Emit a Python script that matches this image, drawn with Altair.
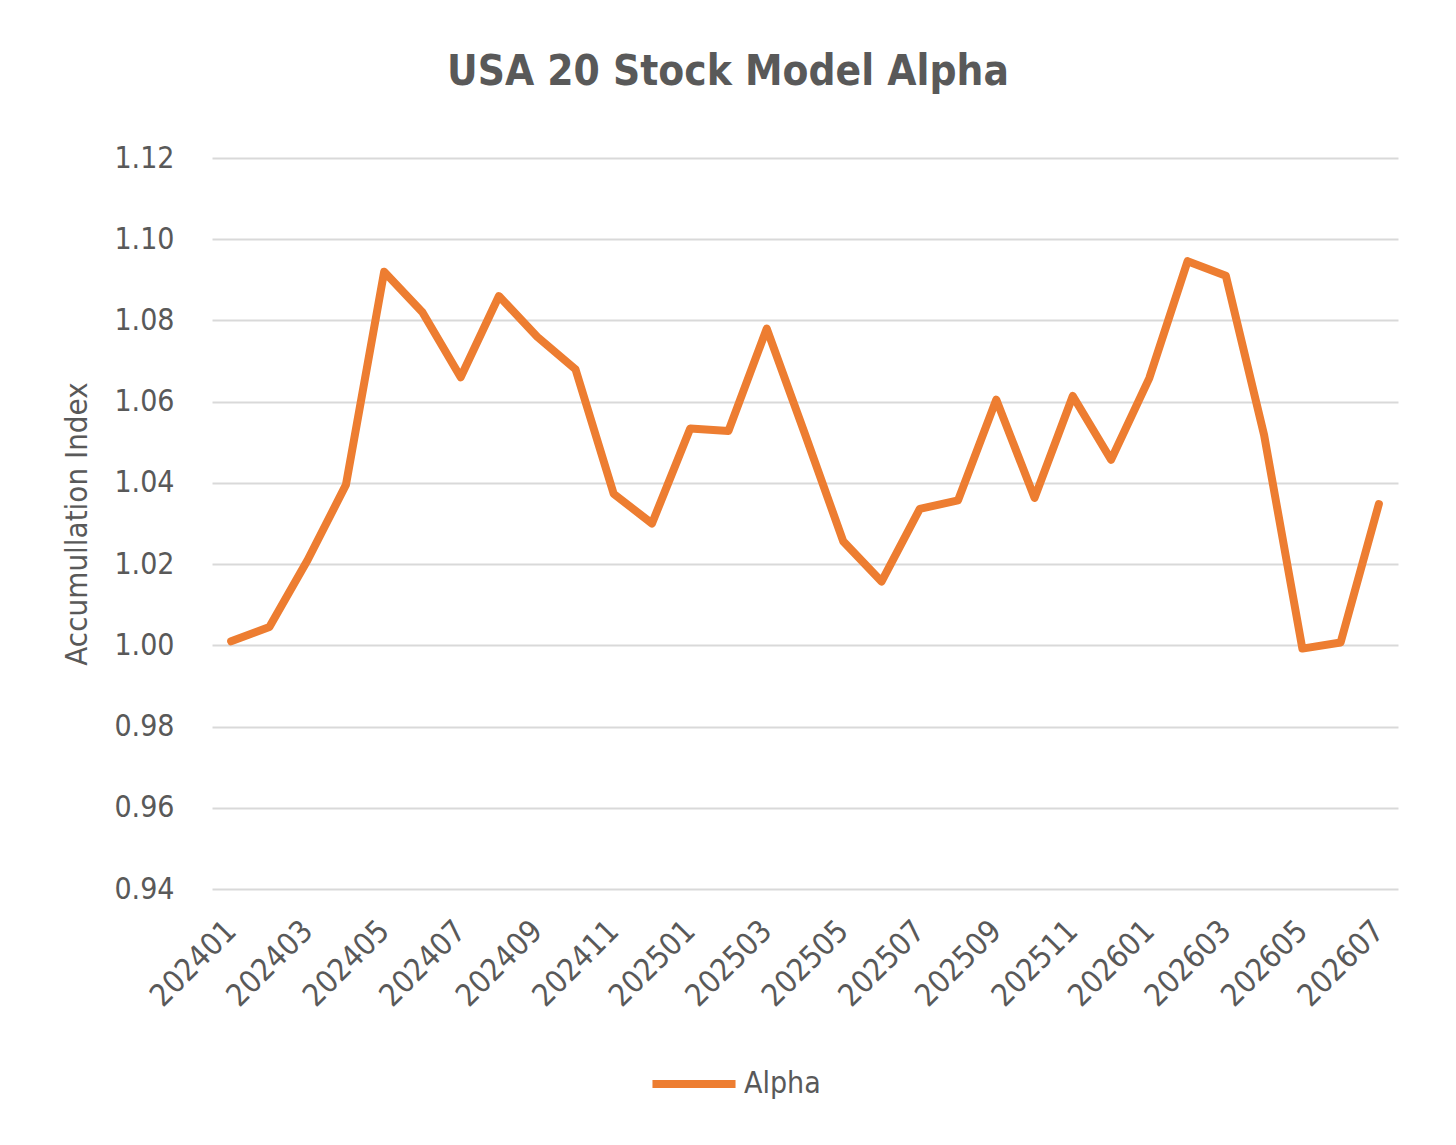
import altair as alt
import pandas as pd

months = [
    "202401", "202402", "202403", "202404", "202405", "202406", "202407", "202408",
    "202409", "202410", "202411", "202412", "202501", "202502", "202503", "202504",
    "202505", "202506", "202507", "202508", "202509", "202510", "202511", "202512",
    "202601", "202602", "202603", "202604", "202605", "202606", "202607",
]
alpha = [
    1.001, 1.0045, 1.021, 1.0395, 1.092, 1.082, 1.066, 1.086,
    1.076, 1.068, 1.0373, 1.030, 1.0534, 1.0528, 1.078, 1.052,
    1.0256, 1.0157, 1.0336, 1.0357, 1.0605, 1.0363, 1.0614, 1.0457,
    1.0658, 1.0946, 1.091, 1.0518, 0.9992, 1.0007, 1.0348,
]
x_labels = ["202401", "202403", "202405", "202407", "202409", "202411", "202501", "202503",
            "202505", "202507", "202509", "202511", "202601", "202603", "202605", "202607"]
y_ticks = [0.94, 0.96, 0.98, 1.00, 1.02, 1.04, 1.06, 1.08, 1.10, 1.12]

df = pd.DataFrame({"month": months, "value": alpha, "series": "Alpha"})

FONT = "'DejaVu Sans Condensed', 'Liberation Sans Narrow', 'Roboto Condensed', Lato, sans-serif"
GREY = "#595959"

chart = alt.Chart(df).mark_line(strokeWidth=8, strokeJoin="round", strokeCap="round").encode(
    x=alt.X("month:O", scale=alt.Scale(padding=0.5), sort=months,
            axis=alt.Axis(title=None, values=x_labels, labelAngle=315, labelAlign="right",
                          labelBaseline="middle", labelPadding=37, ticks=False, domain=False,
                          grid=False, labelFontSize=31, labelColor=GREY, labelFont=FONT)),
    y=alt.Y("value:Q", scale=alt.Scale(domain=[0.94, 1.12], nice=False, zero=False),
            axis=alt.Axis(title="Accumullation Index", values=y_ticks, format=".2f",
                          ticks=False, domain=False, gridColor="#D9D9D9", gridWidth=2,
                          labelFontSize=30, labelColor=GREY, labelFont=FONT, labelPadding=38,
                          titleFontSize=31, titleColor=GREY, titleFont=FONT,
                          titleFontWeight="normal", titlePadding=20)),
    color=alt.Color("series:N", scale=alt.Scale(range=["#ED7D31"]),
                    legend=alt.Legend(title=None, orient="none", legendX=436, legendY=880,
                                      symbolType="stroke", symbolSize=6900, symbolStrokeWidth=8,
                                      labelFontSize=30, labelColor=GREY, labelFont=FONT,
                                      labelOffset=4)),
).properties(
    width=1186,
    height=731,
    padding={"left": 204, "top": 150, "right": 50, "bottom": 240},
    autosize=alt.AutoSizeParams(type="none"),
    title=alt.TitleParams("USA 20 Stock Model Alpha", fontSize=42, font=FONT, color=GREY,
                          fontWeight="bold", anchor="middle", offset=49, dx=-77),
).configure_view(stroke=None)

chart.save("out.html", embed_options={"renderer": "svg", "actions": False})
